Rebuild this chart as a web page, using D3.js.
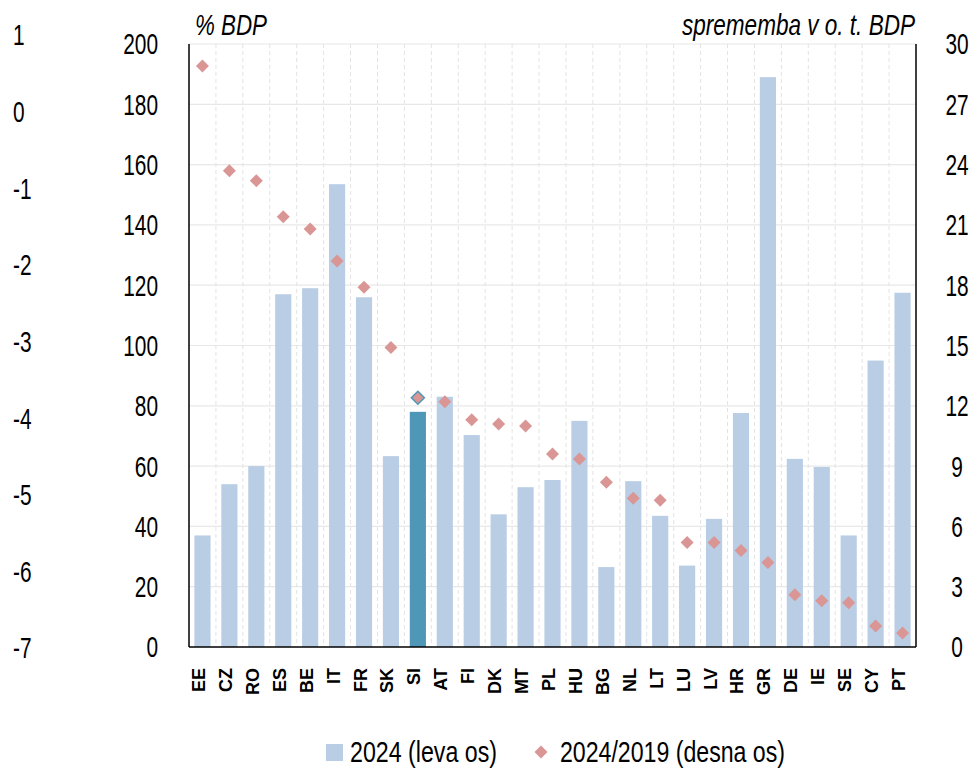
<!DOCTYPE html>
<html>
<head>
<meta charset="utf-8">
<script src="https://cdn.jsdelivr.net/npm/d3@7"></script>
<style>
  body { margin: 0; background: #fff; }
  text { font-family: "Liberation Sans", Arial, sans-serif; fill: #000; }
</style>
</head>
<body>
<svg id="chart"></svg>
<script>
// data
const countries = ["EE", "CZ", "RO", "ES", "BE", "IT", "FR", "SK", "SI", "AT", "FI", "DK", "MT", "PL",
    "HU", "BG", "NL", "LT", "LU", "LV", "HR", "GR", "DE", "IE", "SE", "CY", "PT"];
const debt2024 = [37, 54, 60, 117, 119, 153.5, 116, 63.3, 78, 83, 70.3, 44, 53, 55.4,
    75, 26.5, 55, 43.5, 27, 42.5, 77.6, 189, 62.4, 59.7, 37, 95, 117.5];
const change2019 = [28.9, 23.7, 23.2, 21.4, 20.8, 19.2, 17.9, 14.9, 12.4, 12.2, 11.3, 11.1, 11.0, 9.6,
    9.35, 8.2, 7.4, 7.3, 5.2, 5.2, 4.8, 4.2, 2.6, 2.3, 2.2, 1.05, 0.7];
const leftTicks = [0, 20, 40, 60, 80, 100, 120, 140, 160, 180, 200];
const rightTicks = [0, 3, 6, 9, 12, 15, 18, 21, 24, 27, 30];
const ghostTicks = [1, 0, -1, -2, -3, -4, -5, -6, -7];
const highlight = "SI";

const width = 977, height = 770;
const margin = {top: 44, right: 61, bottom: 123, left: 189};
const barColor = "#b9cde5", siColor = "#4f97b7", dotColor = "#d99694";

const svg = d3.select("#chart")
    .attr("width", width)
    .attr("height", height)
    .attr("viewBox", [0, 0, width, height]);

const x = d3.scaleBand()
    .domain(countries)
    .range([margin.left, width - margin.right])
    .paddingInner(0.4)
    .paddingOuter(0.2);

const yLeft = d3.scaleLinear().domain([0, 200]).range([height - margin.bottom, margin.top]);
const yRight = d3.scaleLinear().domain([0, 30]).range([height - margin.bottom, margin.top]);
const yGhost = d3.scaleLinear().domain([-7, 1]).range([648, 35]);

const x0 = margin.left, x1 = width - margin.right;
const yBottom = height - margin.bottom;
const sx = 0.72; // squeeze to mimic the narrow font

// horizontal grid
svg.append("g")
    .selectAll("line")
    .data(leftTicks.slice(1))
    .join("line")
    .attr("x1", x0).attr("x2", x1)
    .attr("y1", d => yLeft(d)).attr("y2", d => yLeft(d))
    .attr("stroke", "#e8e8e8")
    .attr("stroke-width", 1.2);

// vertical dashed grid between categories
const gap = x.step() - x.bandwidth();
svg.append("g")
    .selectAll("line")
    .data(countries.slice(1))
    .join("line")
    .attr("x1", d => x(d) - gap / 2)
    .attr("x2", d => x(d) - gap / 2)
    .attr("y1", margin.top).attr("y2", yBottom)
    .attr("stroke", "#e3e3e3")
    .attr("stroke-dasharray", "4,3");

// bars
svg.append("g")
    .selectAll("rect")
    .data(countries)
    .join("rect")
    .attr("x", d => x(d))
    .attr("width", x.bandwidth())
    .attr("y", (d, i) => yLeft(debt2024[i]))
    .attr("height", (d, i) => yBottom - yLeft(debt2024[i]))
    .attr("fill", d => d === highlight ? siColor : barColor);

// diamonds
const ds = 6.5;
svg.append("g")
    .selectAll("path")
    .data(countries)
    .join("path")
    .attr("transform", (d, i) => `translate(${x(d) + x.bandwidth() / 2},${yRight(change2019[i])})`)
    .attr("d", `M0,${-ds}L${ds},0L0,${ds}L${-ds},0Z`)
    .attr("fill", dotColor)
    .attr("stroke", d => d === highlight ? siColor : "none")
    .attr("stroke-width", 1.5);

// axis lines
svg.append("line").attr("x1", x0).attr("x2", x0).attr("y1", margin.top).attr("y2", yBottom)
    .attr("stroke", "#000").attr("stroke-width", 1.5);
svg.append("line").attr("x1", x1).attr("x2", x1).attr("y1", margin.top).attr("y2", yBottom)
    .attr("stroke", "#000").attr("stroke-width", 1.5);
svg.append("line").attr("x1", x0).attr("x2", x1).attr("y1", yBottom).attr("y2", yBottom)
    .attr("stroke", "#000").attr("stroke-width", 1.5);

// tick labels (narrowed with a scale)
function tickLabels(ticks, xPos, scale, anchor) {
    svg.append("g")
        .selectAll("text")
        .data(ticks)
        .join("text")
        .attr("transform", d => `translate(${xPos},${scale(d)}) scale(${sx},1)`)
        .attr("dy", "0.36em")
        .attr("text-anchor", anchor)
        .attr("font-size", 29)
        .text(d => d);
}
tickLabels(leftTicks, 158, yLeft, "end");
tickLabels(rightTicks, 957, yRight, "middle");
tickLabels(ghostTicks, 13, yGhost, "start");

// category labels
svg.append("g")
    .selectAll("text")
    .data(countries)
    .join("text")
    .attr("transform", d => `translate(${x(d) + x.bandwidth() / 2 - 4},${yBottom + 21}) rotate(-90)`)
    .attr("dy", "0.36em")
    .attr("text-anchor", "end")
    .attr("font-size", 18)
    .attr("font-weight", "bold")
    .text(d => d);

// axis titles
svg.append("text")
    .attr("x", 195).attr("y", 35)
    .attr("font-size", 29)
    .attr("font-style", "italic")
    .attr("textLength", 72)
    .attr("lengthAdjust", "spacingAndGlyphs")
    .text("% BDP");

svg.append("text")
    .attr("x", 682).attr("y", 35)
    .attr("font-size", 29)
    .attr("font-style", "italic")
    .attr("textLength", 233)
    .attr("lengthAdjust", "spacingAndGlyphs")
    .text("sprememba v o. t. BDP");

// legend
const lg = svg.append("g").attr("transform", "translate(0,752)");
lg.append("rect").attr("x", 326).attr("y", -8).attr("width", 17).attr("height", 17).attr("fill", barColor);
lg.append("text").attr("x", 350).attr("y", 0).attr("dy", "0.36em").attr("font-size", 29)
    .attr("textLength", 147).attr("lengthAdjust", "spacingAndGlyphs")
    .text("2024 (leva os)");
lg.append("path").attr("transform", "translate(541,0)").attr("d", "M0,-6.5L6.5,0L0,6.5L-6.5,0Z").attr("fill", dotColor);
lg.append("text").attr("x", 560).attr("y", 0).attr("dy", "0.36em").attr("font-size", 29)
    .attr("textLength", 225).attr("lengthAdjust", "spacingAndGlyphs")
    .text("2024/2019 (desna os)");
</script>
</body>
</html>
